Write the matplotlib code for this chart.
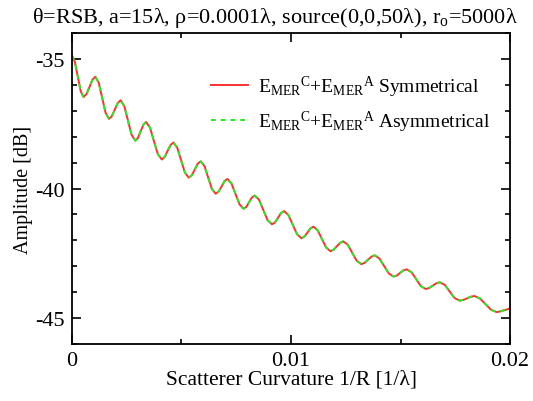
import matplotlib
matplotlib.use('Agg')
import matplotlib.pyplot as plt
from matplotlib.ticker import MultipleLocator

# curve (1/R in 1/lambda, amplitude in dB)
curvature = [
    0.0, 0.00013, 0.000265, 0.0004, 0.00053, 0.000665, 0.0008, 0.000935, 0.00107,
    0.001225, 0.00138, 0.001535, 0.00169, 0.00182, 0.001955, 0.00209, 0.00222,
    0.00239, 0.002555, 0.00272, 0.00289, 0.00301, 0.003135, 0.00326, 0.00338,
    0.00356, 0.00374, 0.00392, 0.0041, 0.00423, 0.004365, 0.0045, 0.00463,
    0.004805, 0.00498, 0.005155, 0.00533, 0.00547, 0.005605, 0.00574, 0.00588,
    0.00605, 0.00622, 0.00639, 0.00656, 0.006695, 0.00683, 0.006965, 0.0071,
    0.00728, 0.007465, 0.00765, 0.00783, 0.00796, 0.008085, 0.00821, 0.00834,
    0.00854, 0.008735, 0.00893, 0.00913, 0.00927, 0.009405, 0.00954, 0.00968,
    0.00988, 0.01008, 0.01028, 0.01048, 0.010615, 0.01075, 0.010885, 0.01102,
    0.011215, 0.01141, 0.011605, 0.0118, 0.011945, 0.01209, 0.012235, 0.01238,
    0.01259, 0.012795, 0.013, 0.01321, 0.01336, 0.013515, 0.01367, 0.01382,
    0.014035, 0.01425, 0.014465, 0.01468, 0.01483, 0.01498, 0.01513, 0.01528,
    0.0155, 0.015715, 0.01593, 0.01615, 0.01631, 0.01647, 0.01663, 0.01679,
    0.01702, 0.017245, 0.01747, 0.0177, 0.01787, 0.018035, 0.0182, 0.01837,
    0.01862, 0.018875, 0.01913, 0.01938, 0.01953, 0.01969, 0.01985, 0.02,
]
amp_sym = [
    -34.87, -35.10, -35.67, -36.24, -36.47, -36.35, -36.08, -35.80, -35.68,
    -35.92, -36.50, -37.07, -37.31, -37.21, -36.95, -36.70, -36.59,
    -36.82, -37.37, -37.92, -38.15, -38.05, -37.79, -37.54, -37.43,
    -37.64, -38.16, -38.67, -38.88, -38.78, -38.55, -38.32, -38.22,
    -38.42, -38.90, -39.38, -39.58, -39.49, -39.27, -39.04, -38.95,
    -39.13, -39.58, -40.02, -40.20, -40.12, -39.92, -39.71, -39.63,
    -39.80, -40.21, -40.61, -40.78, -40.71, -40.53, -40.35, -40.27,
    -40.43, -40.83, -41.22, -41.38, -41.31, -41.13, -40.95, -40.87,
    -41.02, -41.40, -41.77, -41.92, -41.85, -41.70, -41.54, -41.47,
    -41.61, -41.95, -42.28, -42.42, -42.36, -42.23, -42.10, -42.04,
    -42.17, -42.48, -42.79, -42.92, -42.87, -42.75, -42.63, -42.58,
    -42.70, -42.99, -43.28, -43.40, -43.36, -43.26, -43.16, -43.12,
    -43.23, -43.50, -43.77, -43.88, -43.84, -43.75, -43.66, -43.62,
    -43.72, -43.98, -44.23, -44.33, -44.30, -44.24, -44.18, -44.15,
    -44.24, -44.46, -44.68, -44.77, -44.75, -44.71, -44.67, -44.63,
]
# the asymmetrical result lies right on top of the symmetrical one
amp_asym = list(amp_sym)

plt.rcParams['font.family'] = ['Liberation Serif', 'DejaVu Serif']
plt.rcParams['mathtext.fontset'] = 'custom'
plt.rcParams['mathtext.rm'] = 'Liberation Serif'
plt.rcParams['mathtext.it'] = 'Liberation Serif:italic'

fig = plt.figure(figsize=(5.33, 4.02), dpi=100)
ax = fig.add_axes([0.135, 0.142, 0.822, 0.773])

ax.plot(curvature, amp_sym, color='#ff3030', lw=1.4,
        label=r'E$_{\mathrm{MER}}$$^{\mathrm{C}}$+E$_{\mathrm{MER}}$$^{\mathrm{A}}$ Symmetrical')
ax.plot(curvature, amp_asym, color='#22ee22', lw=1.4, dashes=(2.5, 2.5),
        label=r'E$_{\mathrm{MER}}$$^{\mathrm{C}}$+E$_{\mathrm{MER}}$$^{\mathrm{A}}$ Asymmetrical')

ax.set_xlim(0, 0.02)
ax.set_ylim(-46, -34)
ax.xaxis.set_major_locator(MultipleLocator(0.01))
ax.xaxis.set_minor_locator(MultipleLocator(0.005))
ax.yaxis.set_major_locator(MultipleLocator(5))
ax.yaxis.set_minor_locator(MultipleLocator(1))
ax.set_xticks([0, 0.01, 0.02])
ax.set_xticklabels(['0', '0.01', '0.02'])
ax.set_yticks([-45, -40, -35])
ax.set_yticklabels(['-45', '-40', '-35'])

ax.tick_params(which='both', direction='in', top=True, right=True, labelsize=16, width=1.2)
ax.tick_params(which='major', length=6.5, pad=5)
ax.tick_params(which='minor', length=3.6)
for s in ax.spines.values():
    s.set_linewidth(1.3)

ax.set_xlabel('Scatterer Curvature 1/R [1/λ]', fontsize=15.5, labelpad=0)
ax.set_ylabel('Amplitude [dB]', fontsize=14.5, labelpad=2)
# title sits centred on the figure rather than on the axes
fig.text(0.516, 0.955, 'θ=RSB, a=15λ, ρ=0.0001λ, source(0,0,50λ), r$_{\mathrm{o}}$=5000λ',
         fontsize=16, ha='center', va='center')

ax.legend(loc='upper right', frameon=False, fontsize=14, handlelength=1.9,
          handletextpad=0.5, labelspacing=0.5, bbox_to_anchor=(0.995, 0.925))

fig.savefig('out.png', dpi=100)
